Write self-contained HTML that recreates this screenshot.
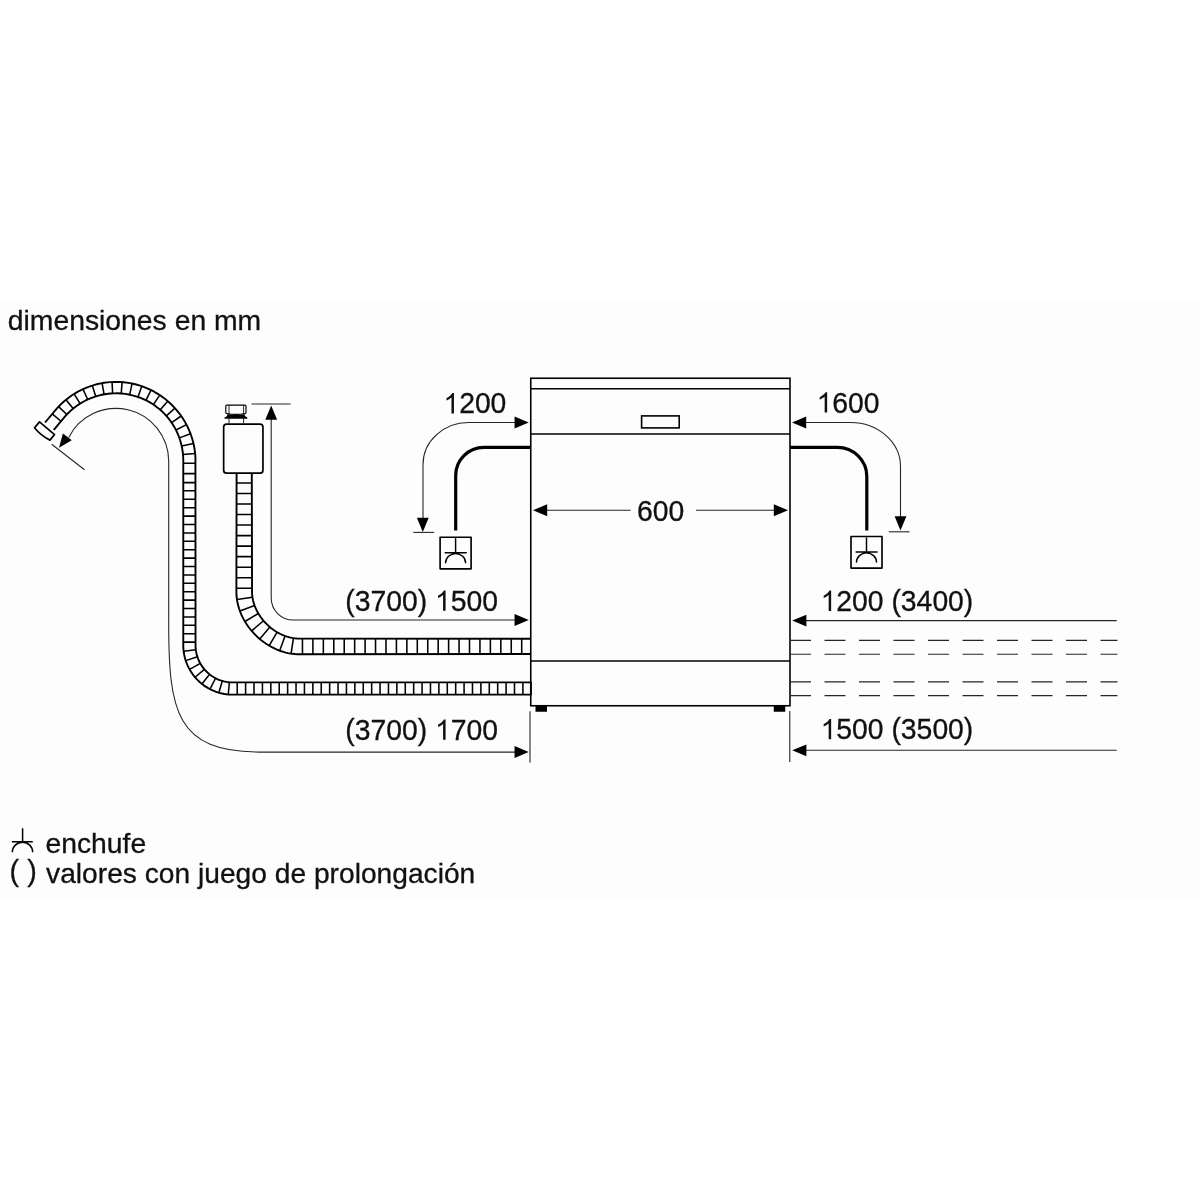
<!DOCTYPE html>
<html><head><meta charset="utf-8"><title>dimensiones</title>
<style>
html,body{margin:0;padding:0;background:#fff;}
body{width:1200px;height:1200px;overflow:hidden;position:relative;font-family:"Liberation Sans",sans-serif;}
.band{position:absolute;left:0;top:301px;width:1200px;height:598px;background:#fdfdfd;}
svg{position:absolute;left:0;top:0;will-change:transform;}
svg text{font-family:"Liberation Sans",sans-serif;font-size:28px;fill:#111;stroke:#111;stroke-width:0.3px;}
</style></head><body>
<div class="band"></div>
<svg width="1200" height="1200" viewBox="0 0 1200 1200">
<path d="M53.79 429.82 65.29 416.15 67.81 413.45 70.48 410.89 73.27 408.48 76.2 406.23 79.25 404.15 82.4 402.23 85.65 400.48 89 398.92 92.42 397.54 95.92 396.35 99.47 395.35 103.07 394.55 106.72 393.94 110.39 393.53 114.07 393.33 117.76 393.32 121.45 393.52 125.12 393.92 128.76 394.51 132.37 395.31 135.93 396.3 139.42 397.48 142.85 398.85 146.2 400.41 149.46 402.14 152.62 404.06 155.66 406.14 158.59 408.38 161.39 410.79 164.05 413.35 166.56 416.05 168.92 418.89 171.11 421.86 173.14 424.93 174.99 428.12 176.67 431.4 178.16 434.76 179.47 438.2 180.59 441.7 181.52 445.26 182.25 448.86 182.79 452.49 183.13 456.15 183.28 459.81 183.28 645.94 183.37 648.23 183.56 650.5 183.86 652.77 184.26 655.02 184.76 657.24 185.37 659.45 186.08 661.62 186.89 663.75 187.79 665.85 188.79 667.91 189.89 669.91 191.07 671.86 192.35 673.76 193.71 675.59 195.15 677.36 196.68 679.06 198.28 680.69 199.96 682.24 201.7 683.72 203.51 685.11 205.38 686.42 207.32 687.64 209.3 688.77 211.34 689.8 213.42 690.74 215.54 691.59 217.7 692.33 219.89 692.98 222.11 693.52 224.35 693.96 226.61 694.29 228.88 694.52 231.17 694.65 531.6 694.67" fill="none" stroke="#000" stroke-width="1.9" stroke-linejoin="round"/>
<path d="M45.06 422.49 56.75 408.59 58.95 406.21 61.23 403.93 63.61 401.73 66.08 399.64 68.63 397.65 71.26 395.77 73.97 393.99 76.74 392.33 79.58 390.78 82.48 389.35 85.44 388.04 88.45 386.85 91.51 385.79 94.6 384.85 97.73 384.04 100.9 383.36 104.09 382.8 107.29 382.38 110.51 382.09 113.75 381.93 116.98 381.91 120.22 382.01 123.44 382.25 126.66 382.62 129.85 383.12 133.03 383.75 136.17 384.51 139.28 385.4 142.35 386.42 145.38 387.56 148.36 388.82 151.28 390.21 154.15 391.71 156.95 393.33 159.68 395.06 162.34 396.9 164.93 398.84 167.43 400.89 169.85 403.04 172.19 405.28 174.43 407.62 176.58 410.04 178.63 412.55 180.57 415.14 182.41 417.8 184.14 420.54 185.76 423.35 187.26 426.23 188.65 429.16 189.91 432.15 191.05 435.19 192.07 438.27 192.95 441.4 193.71 444.55 194.34 447.74 194.83 450.96 195.19 454.19 195.42 457.43 195.53 645.76 195.66 648.33 195.96 650.89 196.45 653.43 197.1 655.92 197.93 658.36 198.92 660.74 200.08 663.04 201.39 665.26 202.86 667.38 204.46 669.4 206.21 671.3 208.08 673.07 210.06 674.71 212.16 676.21 214.36 677.56 216.64 678.76 219 679.79 221.43 680.66 223.91 681.36 226.43 681.88 228.99 682.23 231.56 682.41 531.6 682.42" fill="none" stroke="#000" stroke-width="1.9" stroke-linejoin="round"/>
<path d="M60.99 421.24L52.26 413.91M66.86 414.44L58.58 406.6M73.15 408.58L65.94 399.76M80.14 403.58L74.1 393.91M87.71 399.49L82.95 389.14M95.73 396.4L92.32 385.53M104.08 394.36L102.08 383.14M112.62 393.38L112.06 382M121.22 393.5L122.1 382.14M129.73 394.71L132.05 383.54M138.02 396.98L141.73 386.2M145.96 400.29L151.01 390.07M153.41 404.58L159.71 395.08M160.26 409.78L167.72 401.14M166.36 415.83L174.92 408.15M171.63 422.61L181.19 416.01M175.98 430L186.43 424.6M179.36 437.88L190.55 433.8M181.71 446.11L193.46 443.45M183.01 454.56L195.12 453.4M183.28 463.3L195.52 463.3M183.28 473.6L195.53 473.6M183.28 482.6L195.53 482.6M183.28 490.8L195.53 490.8M183.28 499.3L195.53 499.3M183.28 507.7L195.53 507.7M183.28 516.1L195.53 516.1M183.28 524.51L195.53 524.51M183.28 532.91L195.53 532.91M183.28 541.31L195.53 541.31M183.28 549.71L195.53 549.71M183.28 558.12L195.53 558.12M183.28 566.52L195.53 566.52M183.28 574.92L195.53 574.92M183.28 583.32L195.53 583.32M183.28 591.73L195.53 591.73M183.28 600.13L195.53 600.13M183.28 608.53L195.53 608.53M183.28 616.93L195.53 616.93M183.28 625.34L195.53 625.34M183.28 633.74L195.53 633.74M183.28 642.14L195.53 642.14M183.65 651.28L195.81 649.78M185.74 660.63L197.38 656.81M189.59 669.39L200.28 663.4M195.06 677.25L204.39 669.32M201.94 683.91L209.57 674.33M209.97 689.12L215.61 678.25M218.86 692.69L222.3 680.93M228.27 694.47L229.38 682.27M237.22 694.68L237.22 682.43M245.62 694.68L245.62 682.43M254.02 694.68L254.02 682.43M262.43 694.68L262.43 682.43M270.83 694.68L270.83 682.43M279.23 694.68L279.23 682.43M287.63 694.68L287.63 682.43M296.04 694.68L296.04 682.43M304.44 694.68L304.44 682.43M312.84 694.68L312.84 682.43M321.24 694.68L321.24 682.43M329.64 694.68L329.64 682.43M338.05 694.68L338.05 682.43M346.45 694.68L346.45 682.43M354.85 694.68L354.85 682.43M363.25 694.68L363.25 682.43M371.66 694.68L371.66 682.43M380.06 694.68L380.06 682.43M388.46 694.67L388.46 682.42M396.86 694.67L396.86 682.42M405.27 694.67L405.27 682.42M413.67 694.67L413.67 682.42M422.07 694.67L422.07 682.42M430.47 694.67L430.47 682.42M438.88 694.67L438.88 682.42M447.28 694.67L447.28 682.42M455.68 694.67L455.68 682.42M464.08 694.67L464.08 682.42M472.49 694.67L472.49 682.42M480.89 694.67L480.89 682.42M489.29 694.67L489.29 682.42M497.69 694.67L497.69 682.42M506.1 694.67L506.1 682.42M514.5 694.67L514.5 682.42M522.9 694.67L522.9 682.42M531.1 694.67L531.1 682.42" fill="none" stroke="#000" stroke-width="1.55"/>
<g transform="translate(44.62 431.1) rotate(40)"><path d="M-9.85 -3.75 L9.85 -3.75 L9.85 3.5 Q0 6 -9.85 4 Z" fill="#fdfdfd" stroke="#000" stroke-width="1.7" stroke-linejoin="round"/></g>
<path d="M236.6 474 236.38 592.32 236.47 594.69 236.65 596.97 236.93 599.31 237.32 601.63 237.78 603.86 238.35 606.12 239.01 608.36 239.75 610.56 240.55 612.67 241.45 614.8 242.42 616.89 243.44 618.88 245.13 621.85 246.96 624.72 248.92 627.49 251.02 630.15 253.24 632.71 255.59 635.15 258.04 637.48 260.61 639.69 263.28 641.77 266.06 643.72 268.93 645.53 271.9 647.2 274.96 648.71 277.06 649.64 279.21 650.5 281.33 651.25 283.54 651.95 285.79 652.56 288.06 653.08 290.3 653.49 292.62 653.82 294.97 654.06 297.33 654.19 531 654.05" fill="none" stroke="#000" stroke-width="1.9" stroke-linejoin="round"/>
<path d="M251.8 474 252.05 592.96 252.22 595.45 252.56 597.94 253.05 600.42 253.68 602.81 254.47 605.24 255.4 607.63 256.47 609.98 257.67 612.28 258.99 614.52 260.43 616.7 261.98 618.81 263.64 620.84 265.39 622.79 267.24 624.66 269.17 626.43 271.23 628.15 273.33 629.72 275.49 631.19 277.72 632.54 279.96 633.75 282.3 634.86 284.69 635.84 287.12 636.68 289.58 637.37 292.06 637.91 294.55 638.3 297.05 638.53 531 638.75" fill="none" stroke="#000" stroke-width="1.9" stroke-linejoin="round"/>
<path d="M521.7 654.05L521.7 638.75M511.26 654.06L511.26 638.74M500.82 654.06L500.82 638.74M490.38 654.06L490.38 638.74M479.94 654.07L479.94 638.73M469.5 654.07L469.5 638.73M459.06 654.07L459.06 638.73M448.62 654.08L448.62 638.72M438.18 654.08L438.18 638.72M427.74 654.08L427.74 638.72M417.3 654.09L417.3 638.71M406.86 654.09L406.86 638.71M396.42 654.09L396.42 638.71M385.98 654.1L385.98 638.7M375.54 654.11L375.54 638.69M365.1 654.12L365.1 638.68M354.66 654.14L354.66 638.66M344.22 654.15L344.22 638.65M333.78 654.17L333.78 638.63M323.34 654.18L323.34 638.62M312.9 654.19L312.9 638.61M302.46 654.21L302.46 638.59M291.09 653.62L293.43 638.15M279.69 650.68L285.06 635.98M269.19 645.68L277.12 632.19M259.78 639L269.88 627.04M251.62 630.87L263.56 620.75M244.93 621.52L258.36 613.49M239.91 611.01L254.59 605.57M236.97 599.58L252.44 597.22M236.38 588.2L252.02 588.2M236.42 577.68L251.98 577.68M236.46 567.16L251.94 567.16M236.5 556.64L251.9 556.64M236.53 546.12L251.87 546.12M236.57 535.6L251.83 535.6M236.6 525.08L251.8 525.08M236.6 514.56L251.8 514.56M236.6 504.04L251.8 504.04M236.6 493.52L251.8 493.52M236.6 483L251.8 483" fill="none" stroke="#000" stroke-width="1.55"/>
<rect x="223.65" y="424.05" width="39.3" height="49.1" rx="3" fill="#fdfdfd" stroke="#000" stroke-width="1.7"/>
<path d="M226.8 405.1 H245 Q246 405.1 246 406.1 V412.4 Q246 413.4 245 413.5 Q236 415.3 226.8 413.5 Q225.8 413.4 225.8 412.4 V406.1 Q225.8 405.1 226.8 405.1 Z" fill="#fdfdfd" stroke="#000" stroke-width="1.15"/>
<path d="M229 405.5V414M243.6 405.5V414M229 418.3V423.4M243.6 418.3V423.4" stroke="#111" stroke-width="0.9" fill="none"/>
<path d="M227.4 413.9 Q236 416 244.6 413.9 L244.9 416 L247.3 417.6 L247.3 418.7 L224.5 418.7 L224.5 417.6 L227.1 416 Z" fill="#000"/>
<rect x="530.75" y="378.25" width="259.25" height="327.5" fill="none" stroke="#000" stroke-width="1.6"/>
<path d="M530.75 388.75H790M530.75 434H790M530.75 661H790" stroke="#000" stroke-width="1.6" fill="none"/>
<rect x="641.6" y="415.9" width="37.6" height="12" fill="#fdfdfd" stroke="#000" stroke-width="1.6"/>
<rect x="535.5" y="705.75" width="11.5" height="6" fill="#000"/>
<rect x="773.75" y="705.75" width="11.5" height="6" fill="#000"/>
<path d="M530.75 447.4 H483.9 A28.2 28 0 0 0 455.7 475.4 V530.4" fill="none" stroke="#000" stroke-width="3.2"/>
<path d="M790 447.4 H837.3 A29.5 29 0 0 1 866.8 476.4 V530.4" fill="none" stroke="#000" stroke-width="3.2"/>
<rect x="440.1" y="537.2" width="31" height="31.6" fill="#fdfdfd" stroke="#000" stroke-width="1.65" stroke-linejoin="round"/>
<path d="M455.6 538.7V552.7M445.2 552.7H466.2M445.6 562.8A10 9.2 0 0 1 465.6 562.8" fill="none" stroke="#000" stroke-width="1.45" stroke-linecap="round"/>
<rect x="851" y="536.5" width="31" height="31.6" fill="#fdfdfd" stroke="#000" stroke-width="1.65" stroke-linejoin="round"/>
<path d="M866.5 538V552M856.1 552H877.1M856.5 562.1A10 9.2 0 0 1 876.5 562.1" fill="none" stroke="#000" stroke-width="1.45" stroke-linecap="round"/>
<path d="M68.75 437.44 A52.8 52.8 0 0 1 168.7 461 V621.8 C168.6 711.5 176 752.1 259.7 752.1 H520" fill="none" stroke="#262626" stroke-width="1.1"/>
<polygon points="59,447.7 62.89,433.42 71.78,440.23" fill="#000"/>
<path d="M51.7 444.2 L84.5 469.7" fill="none" stroke="#262626" stroke-width="1.1"/>
<polygon points="528.75,752 514.55,757.9 514.55,746.1" fill="#000"/>
<path d="M530 711.25V762.5" fill="none" stroke="#262626" stroke-width="1.1"/>
<path d="M251.5 404H290.5" fill="none" stroke="#262626" stroke-width="1.1"/>
<path d="M271.2 415 V598 A22 22 0 0 0 293.2 620 H520" fill="none" stroke="#262626" stroke-width="1.1"/>
<polygon points="271.2,405.5 277.1,419.7 265.3,419.7" fill="#000"/>
<polygon points="528.75,620 514.55,625.9 514.55,614.1" fill="#000"/>
<path d="M520 422.5 H468.5 A45.5 42 0 0 0 423 464.5 V520" fill="none" stroke="#262626" stroke-width="1.1"/>
<polygon points="528.75,422.5 514.55,428.4 514.55,416.6" fill="#000"/>
<polygon points="422.8,532 416.9,517.8 428.7,517.8" fill="#000"/>
<path d="M413.3 532.4H434.2" fill="none" stroke="#262626" stroke-width="1.1"/>
<path d="M800 422.5 H850.5 A50 44 0 0 1 900.5 466.5 V520" fill="none" stroke="#262626" stroke-width="1.1"/>
<polygon points="792,422.5 806.2,416.6 806.2,428.4" fill="#000"/>
<polygon points="900.5,530.5 894.6,516.3 906.4,516.3" fill="#000"/>
<path d="M888.8 531.8H909.5" fill="none" stroke="#262626" stroke-width="1.1"/>
<path d="M545 510.25H630.6M696 510.25H776" fill="none" stroke="#262626" stroke-width="1.1"/>
<polygon points="533,510.25 547.2,504.35 547.2,516.15" fill="#000"/>
<polygon points="788,510.25 773.8,516.15 773.8,504.35" fill="#000"/>
<path d="M800 620.6H1116.7M800 750.3H1116.7" fill="none" stroke="#262626" stroke-width="1.1"/>
<polygon points="792.2,620.6 806.4,614.7 806.4,626.5" fill="#000"/>
<polygon points="792.2,750.3 806.4,744.4 806.4,756.2" fill="#000"/>
<path d="M789.8 711V762" fill="none" stroke="#262626" stroke-width="1.1"/>
<path d="M790 640.4H1117.5" fill="none" stroke="#262626" stroke-width="1.1" stroke-dasharray="21 13.5"/>
<path d="M790 654.2H1117.5" fill="none" stroke="#262626" stroke-width="1.1" stroke-dasharray="21 13.5"/>
<path d="M790 681.9H1117.5" fill="none" stroke="#262626" stroke-width="1.1" stroke-dasharray="21 13.5"/>
<path d="M790 695.6H1117.5" fill="none" stroke="#262626" stroke-width="1.1" stroke-dasharray="21 13.5"/>
<path d="M22.6 828.3V841.7M11.8 841.7H32.8M12.3 852.2A10.2 10 0 0 1 32.7 852.2" fill="none" stroke="#000" stroke-width="1.5"/>
<text transform="translate(7.8 330.1) scale(1.0114 1)">dimensiones en mm</text>
<path transform="translate(443.4 413.4) scale(0.013828 -0.013828)" d="M763 0H583V1147Q518 1085 412.5 1023T223 930V1104Q374 1175 487 1276T647 1472H763Z" fill="#111"/>
<text transform="translate(443.4 413.4) scale(1.0114 1.032)" x="15.57 31.14 46.7">200</text>
<path transform="translate(816.6 412.5) scale(0.013828 -0.013828)" d="M763 0H583V1147Q518 1085 412.5 1023T223 930V1104Q374 1175 487 1276T647 1472H763Z" fill="#111"/>
<text transform="translate(816.6 412.5) scale(1.0114 1.032)" x="15.57 31.14 46.7">600</text>
<text transform="translate(636.9 520.6) scale(1.0114 1.032)" x="0 15.57 31.14">600</text>
<path transform="translate(435.02 610.8) scale(0.013828 -0.013828)" d="M763 0H583V1147Q518 1085 412.5 1023T223 930V1104Q374 1175 487 1276T647 1472H763Z" fill="#111"/>
<text transform="translate(345.3 610.8) scale(1.0114 1.032)" x="0 9.32 24.89 40.46 56.03 71.6 104.27 119.84 135.41">(3700)500</text>
<path transform="translate(435.02 739.8) scale(0.013828 -0.013828)" d="M763 0H583V1147Q518 1085 412.5 1023T223 930V1104Q374 1175 487 1276T647 1472H763Z" fill="#111"/>
<text transform="translate(345.3 739.8) scale(1.0114 1.032)" x="0 9.32 24.89 40.46 56.03 71.6 104.27 119.84 135.41">(3700)700</text>
<path transform="translate(820.6 610.9) scale(0.013828 -0.013828)" d="M763 0H583V1147Q518 1085 412.5 1023T223 930V1104Q374 1175 487 1276T647 1472H763Z" fill="#111"/>
<text transform="translate(820.6 610.9) scale(1.0114 1.032)" x="15.57 31.14 46.7 70.06 79.38 94.95 110.52 126.08 141.65">200(3400)</text>
<path transform="translate(820.6 739.3) scale(0.013828 -0.013828)" d="M763 0H583V1147Q518 1085 412.5 1023T223 930V1104Q374 1175 487 1276T647 1472H763Z" fill="#111"/>
<text transform="translate(820.6 739.3) scale(1.0114 1.032)" x="15.57 31.14 46.7 70.06 79.38 94.95 110.52 126.08 141.65">500(3500)</text>
<text transform="translate(45.4 852.7) scale(1.0114 1)">enchufe</text>
<text transform="translate(9.6 881.2) scale(0.98 1)" style="font-size:29.3px">( )</text>
<text transform="translate(46.1 882.8) scale(1.0067 1)">valores con juego de prolongación</text>
</svg>
</body></html>
